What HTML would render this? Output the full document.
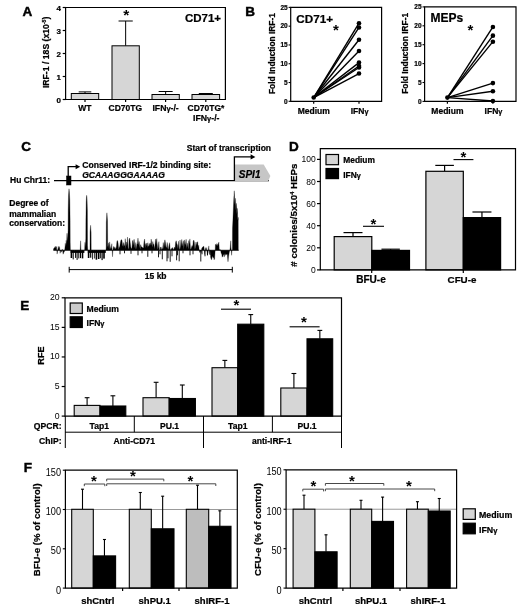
<!DOCTYPE html>
<html><head><meta charset="utf-8"><title>Figure</title>
<style>
html,body{margin:0;padding:0;background:#fff;}
svg{display:block;font-family:"Liberation Sans",sans-serif;}
</style></head>
<body>
<svg width="520" height="609" viewBox="0 0 520 609" style="filter:blur(0.35px)">
<rect x="0" y="0" width="520" height="609" fill="#fff"/>
<text x="22.50" y="15.70" font-size="13.5" text-anchor="start" font-weight="bold" font-style="normal" fill="#000" stroke="#000" stroke-width="0.45">A</text>
<line x1="85.00" y1="91.90" x2="85.00" y2="93.50" stroke="#000" stroke-width="1" />
<line x1="78.70" y1="91.90" x2="91.30" y2="91.90" stroke="#000" stroke-width="1" />
<rect x="71.30" y="93.50" width="27.40" height="6.00" fill="#d6d6d6" stroke="#000" stroke-width="1"/>
<line x1="125.65" y1="21.00" x2="125.65" y2="45.80" stroke="#000" stroke-width="1" />
<line x1="118.55" y1="21.00" x2="132.75" y2="21.00" stroke="#000" stroke-width="1" />
<rect x="112.00" y="45.80" width="27.30" height="53.70" fill="#d6d6d6" stroke="#000" stroke-width="1"/>
<line x1="165.65" y1="91.50" x2="165.65" y2="94.50" stroke="#000" stroke-width="1" />
<line x1="158.65" y1="91.50" x2="172.65" y2="91.50" stroke="#000" stroke-width="1" />
<rect x="152.00" y="94.50" width="27.30" height="5.00" fill="#d6d6d6" stroke="#000" stroke-width="1"/>
<line x1="205.80" y1="93.50" x2="205.80" y2="94.50" stroke="#000" stroke-width="1" />
<line x1="198.80" y1="93.50" x2="212.80" y2="93.50" stroke="#000" stroke-width="1" />
<rect x="192.00" y="94.50" width="27.60" height="5.00" fill="#d6d6d6" stroke="#000" stroke-width="1"/>
<path d="M65.6 99.5 V7.5 H225.4 V99.5 Z" fill="none" stroke="#000" stroke-width="1.2"/>
<line x1="62.70" y1="7.50" x2="65.60" y2="7.50" stroke="#000" stroke-width="1.2" />
<text x="61.00" y="10.90" font-size="8" text-anchor="end" font-weight="bold" font-style="normal" fill="#000"  stroke="#000" stroke-width="0.22">4</text>
<line x1="62.70" y1="30.50" x2="65.60" y2="30.50" stroke="#000" stroke-width="1.2" />
<text x="61.00" y="33.90" font-size="8" text-anchor="end" font-weight="bold" font-style="normal" fill="#000"  stroke="#000" stroke-width="0.22">3</text>
<line x1="62.70" y1="53.50" x2="65.60" y2="53.50" stroke="#000" stroke-width="1.2" />
<text x="61.00" y="56.90" font-size="8" text-anchor="end" font-weight="bold" font-style="normal" fill="#000"  stroke="#000" stroke-width="0.22">2</text>
<line x1="62.70" y1="76.50" x2="65.60" y2="76.50" stroke="#000" stroke-width="1.2" />
<text x="61.00" y="79.90" font-size="8" text-anchor="end" font-weight="bold" font-style="normal" fill="#000"  stroke="#000" stroke-width="0.22">1</text>
<line x1="62.70" y1="99.50" x2="65.60" y2="99.50" stroke="#000" stroke-width="1.2" />
<text x="61.00" y="102.90" font-size="8" text-anchor="end" font-weight="bold" font-style="normal" fill="#000"  stroke="#000" stroke-width="0.22">0</text>
<line x1="85.00" y1="99.50" x2="85.00" y2="101.90" stroke="#000" stroke-width="1.2" />
<line x1="125.60" y1="99.50" x2="125.60" y2="101.90" stroke="#000" stroke-width="1.2" />
<line x1="165.60" y1="99.50" x2="165.60" y2="101.90" stroke="#000" stroke-width="1.2" />
<line x1="205.80" y1="99.50" x2="205.80" y2="101.90" stroke="#000" stroke-width="1.2" />
<text x="84.80" y="111.30" font-size="8.5" text-anchor="middle" font-weight="bold" font-style="normal" fill="#000"  stroke="#000" stroke-width="0.22">WT</text>
<text x="125.30" y="111.30" font-size="8.5" text-anchor="middle" font-weight="bold" font-style="normal" fill="#000"  stroke="#000" stroke-width="0.22">CD70TG</text>
<text x="165.60" y="111.40" font-size="8.7" text-anchor="middle" font-weight="bold" font-style="normal" fill="#000"  stroke="#000" stroke-width="0.22">IFN<tspan font-size="86%">γ</tspan>-/-</text>
<text x="206.00" y="111.40" font-size="8.5" text-anchor="middle" font-weight="bold" font-style="normal" fill="#000"  stroke="#000" stroke-width="0.22">CD70TG*</text>
<text x="206.30" y="120.80" font-size="8.7" text-anchor="middle" font-weight="bold" font-style="normal" fill="#000"  stroke="#000" stroke-width="0.22">IFN<tspan font-size="86%">γ</tspan>-/-</text>
<text x="126.20" y="20.00" font-size="15.5" text-anchor="middle" font-weight="bold" font-style="normal" fill="#000" >*</text>
<text x="221.00" y="22.00" font-size="11.5" text-anchor="end" font-weight="bold" font-style="normal" fill="#000"  stroke="#000" stroke-width="0.22">CD71+</text>
<text x="49.00" y="52.40" font-size="8.67" text-anchor="middle" font-weight="bold" font-style="normal" fill="#000" transform="rotate(-90 49.00 52.40)"  stroke="#000" stroke-width="0.22">IRF-1 / 18S (x10<tspan font-size="5" dy="-3">-5</tspan><tspan dy="3">)</tspan></text>
<text x="245.20" y="15.70" font-size="13.5" text-anchor="start" font-weight="bold" font-style="normal" fill="#000" stroke="#000" stroke-width="0.45">B</text>
<line x1="313.70" y1="97.54" x2="359.00" y2="23.18" stroke="#000" stroke-width="1.4" />
<circle cx="359" cy="23.18" r="2.3" fill="#000"/>
<line x1="313.70" y1="97.54" x2="359.00" y2="27.49" stroke="#000" stroke-width="1.4" />
<circle cx="359" cy="27.49" r="2.3" fill="#000"/>
<line x1="313.70" y1="97.54" x2="359.00" y2="39.70" stroke="#000" stroke-width="1.4" />
<circle cx="359" cy="39.70" r="2.3" fill="#000"/>
<line x1="313.70" y1="97.54" x2="359.00" y2="50.97" stroke="#000" stroke-width="1.4" />
<circle cx="359" cy="50.97" r="2.3" fill="#000"/>
<line x1="313.70" y1="97.54" x2="359.00" y2="62.61" stroke="#000" stroke-width="1.4" />
<circle cx="359" cy="62.61" r="2.3" fill="#000"/>
<line x1="313.70" y1="97.54" x2="359.00" y2="65.99" stroke="#000" stroke-width="1.4" />
<circle cx="359" cy="65.99" r="2.3" fill="#000"/>
<line x1="313.70" y1="97.54" x2="359.00" y2="67.50" stroke="#000" stroke-width="1.4" />
<circle cx="359" cy="67.50" r="2.3" fill="#000"/>
<line x1="313.70" y1="97.54" x2="359.00" y2="73.51" stroke="#000" stroke-width="1.4" />
<circle cx="359" cy="73.51" r="2.3" fill="#000"/>
<circle cx="313.7" cy="97.54" r="2.3" fill="#000"/>
<path d="M290.7 101.3 V7.4 H381.6 V101.3 Z" fill="none" stroke="#000" stroke-width="1.2"/>
<line x1="288.60" y1="101.30" x2="290.70" y2="101.30" stroke="#000" stroke-width="1.1" />
<text x="287.70" y="103.60" font-size="6.5" text-anchor="end" font-weight="bold" font-style="normal" fill="#000"  stroke="#000" stroke-width="0.22">0</text>
<line x1="288.60" y1="82.52" x2="290.70" y2="82.52" stroke="#000" stroke-width="1.1" />
<text x="287.70" y="84.82" font-size="6.5" text-anchor="end" font-weight="bold" font-style="normal" fill="#000"  stroke="#000" stroke-width="0.22">5</text>
<line x1="288.60" y1="63.74" x2="290.70" y2="63.74" stroke="#000" stroke-width="1.1" />
<text x="287.70" y="66.04" font-size="6.5" text-anchor="end" font-weight="bold" font-style="normal" fill="#000"  stroke="#000" stroke-width="0.22">10</text>
<line x1="288.60" y1="44.96" x2="290.70" y2="44.96" stroke="#000" stroke-width="1.1" />
<text x="287.70" y="47.26" font-size="6.5" text-anchor="end" font-weight="bold" font-style="normal" fill="#000"  stroke="#000" stroke-width="0.22">15</text>
<line x1="288.60" y1="26.18" x2="290.70" y2="26.18" stroke="#000" stroke-width="1.1" />
<text x="287.70" y="28.48" font-size="6.5" text-anchor="end" font-weight="bold" font-style="normal" fill="#000"  stroke="#000" stroke-width="0.22">20</text>
<line x1="288.60" y1="7.40" x2="290.70" y2="7.40" stroke="#000" stroke-width="1.1" />
<text x="287.70" y="9.70" font-size="6.5" text-anchor="end" font-weight="bold" font-style="normal" fill="#000"  stroke="#000" stroke-width="0.22">25</text>
<line x1="313.70" y1="101.30" x2="313.70" y2="103.70" stroke="#000" stroke-width="1.2" />
<line x1="359.00" y1="101.30" x2="359.00" y2="103.70" stroke="#000" stroke-width="1.2" />
<text x="313.70" y="113.80" font-size="8.5" text-anchor="middle" font-weight="bold" font-style="normal" fill="#000"  stroke="#000" stroke-width="0.22">Medium</text>
<text x="359.60" y="114.10" font-size="8.5" text-anchor="middle" font-weight="bold" font-style="normal" fill="#000"  stroke="#000" stroke-width="0.22">IFN<tspan font-size="86%">γ</tspan></text>
<text x="296.30" y="22.50" font-size="11.7" text-anchor="start" font-weight="bold" font-style="normal" fill="#000"  stroke="#000" stroke-width="0.22">CD71+</text>
<text x="336.00" y="34.50" font-size="15" text-anchor="middle" font-weight="bold" font-style="normal" fill="#000" >*</text>
<text x="275.30" y="53.55" font-size="8.4" text-anchor="middle" font-weight="bold" font-style="normal" fill="#000" transform="rotate(-90 275.30 53.55)"  stroke="#000" stroke-width="0.22">Fold Induction IRF-1</text>
<line x1="447.40" y1="97.62" x2="492.90" y2="26.93" stroke="#000" stroke-width="1.4" />
<circle cx="492.9" cy="26.93" r="2.3" fill="#000"/>
<line x1="447.40" y1="97.62" x2="492.90" y2="35.63" stroke="#000" stroke-width="1.4" />
<circle cx="492.9" cy="35.63" r="2.3" fill="#000"/>
<line x1="447.40" y1="97.62" x2="492.90" y2="41.68" stroke="#000" stroke-width="1.4" />
<circle cx="492.9" cy="41.68" r="2.3" fill="#000"/>
<line x1="447.40" y1="97.62" x2="492.90" y2="83.10" stroke="#000" stroke-width="1.4" />
<circle cx="492.9" cy="83.10" r="2.3" fill="#000"/>
<line x1="447.40" y1="97.62" x2="492.90" y2="91.23" stroke="#000" stroke-width="1.4" />
<circle cx="492.9" cy="91.23" r="2.3" fill="#000"/>
<line x1="447.40" y1="97.62" x2="492.90" y2="101.02" stroke="#000" stroke-width="1.4" />
<circle cx="492.9" cy="101.02" r="2.3" fill="#000"/>
<circle cx="447.4" cy="97.62" r="2.3" fill="#000"/>
<path d="M424.6 101.4 V6.9 H516 V101.4 Z" fill="none" stroke="#000" stroke-width="1.2"/>
<line x1="422.50" y1="101.40" x2="424.60" y2="101.40" stroke="#000" stroke-width="1.1" />
<text x="421.60" y="103.70" font-size="6.5" text-anchor="end" font-weight="bold" font-style="normal" fill="#000"  stroke="#000" stroke-width="0.22">0</text>
<line x1="422.50" y1="82.50" x2="424.60" y2="82.50" stroke="#000" stroke-width="1.1" />
<text x="421.60" y="84.80" font-size="6.5" text-anchor="end" font-weight="bold" font-style="normal" fill="#000"  stroke="#000" stroke-width="0.22">5</text>
<line x1="422.50" y1="63.60" x2="424.60" y2="63.60" stroke="#000" stroke-width="1.1" />
<text x="421.60" y="65.90" font-size="6.5" text-anchor="end" font-weight="bold" font-style="normal" fill="#000"  stroke="#000" stroke-width="0.22">10</text>
<line x1="422.50" y1="44.70" x2="424.60" y2="44.70" stroke="#000" stroke-width="1.1" />
<text x="421.60" y="47.00" font-size="6.5" text-anchor="end" font-weight="bold" font-style="normal" fill="#000"  stroke="#000" stroke-width="0.22">15</text>
<line x1="422.50" y1="25.80" x2="424.60" y2="25.80" stroke="#000" stroke-width="1.1" />
<text x="421.60" y="28.10" font-size="6.5" text-anchor="end" font-weight="bold" font-style="normal" fill="#000"  stroke="#000" stroke-width="0.22">20</text>
<line x1="422.50" y1="6.90" x2="424.60" y2="6.90" stroke="#000" stroke-width="1.1" />
<text x="421.60" y="9.20" font-size="6.5" text-anchor="end" font-weight="bold" font-style="normal" fill="#000"  stroke="#000" stroke-width="0.22">25</text>
<line x1="447.40" y1="101.40" x2="447.40" y2="103.80" stroke="#000" stroke-width="1.2" />
<line x1="492.90" y1="101.40" x2="492.90" y2="103.80" stroke="#000" stroke-width="1.2" />
<text x="447.40" y="113.90" font-size="8.5" text-anchor="middle" font-weight="bold" font-style="normal" fill="#000"  stroke="#000" stroke-width="0.22">Medium</text>
<text x="493.50" y="114.20" font-size="8.5" text-anchor="middle" font-weight="bold" font-style="normal" fill="#000"  stroke="#000" stroke-width="0.22">IFN<tspan font-size="86%">γ</tspan></text>
<text x="430.50" y="21.70" font-size="12" text-anchor="start" font-weight="bold" font-style="normal" fill="#000"  stroke="#000" stroke-width="0.22">MEPs</text>
<text x="470.50" y="35.30" font-size="15" text-anchor="middle" font-weight="bold" font-style="normal" fill="#000" >*</text>
<text x="408.30" y="53.35" font-size="8.4" text-anchor="middle" font-weight="bold" font-style="normal" fill="#000" transform="rotate(-90 408.30 53.35)"  stroke="#000" stroke-width="0.22">Fold Induction IRF-1</text>
<text x="21.30" y="150.80" font-size="13.5" text-anchor="start" font-weight="bold" font-style="normal" fill="#000" stroke="#000" stroke-width="0.45">C</text>
<line x1="54.00" y1="180.70" x2="269.00" y2="180.70" stroke="#000" stroke-width="1.3" />
<rect x="66.50" y="176.00" width="4.50" height="9.00" fill="#000" stroke="#000" stroke-width="0.5"/>
<path d="M68.2 176 V166.7 H76.5" fill="none" stroke="#000" stroke-width="1.3"/><path d="M75.6 164.2 L80.2 166.7 L75.6 169.2 Z" fill="#000"/>
<text x="82.20" y="168.00" font-size="8.6" text-anchor="start" font-weight="bold" font-style="normal" fill="#000"  stroke="#000" stroke-width="0.22">Conserved IRF-1/2 binding site:</text>
<text x="82.20" y="178.00" font-size="8.55" text-anchor="start" font-weight="bold" font-style="italic" fill="#000"  stroke="#000" stroke-width="0.22">GCAAAGGGAAAAG</text>
<text x="10.00" y="183.30" font-size="8.5" text-anchor="start" font-weight="bold" font-style="normal" fill="#000"  stroke="#000" stroke-width="0.22">Hu Chr11:</text>
<text x="9.30" y="206.20" font-size="8.5" text-anchor="start" font-weight="bold" font-style="normal" fill="#000"  stroke="#000" stroke-width="0.22">Degree of</text>
<text x="9.30" y="216.50" font-size="8.5" text-anchor="start" font-weight="bold" font-style="normal" fill="#000"  stroke="#000" stroke-width="0.22">mammalian</text>
<text x="9.30" y="226.30" font-size="8.5" text-anchor="start" font-weight="bold" font-style="normal" fill="#000"  stroke="#000" stroke-width="0.22">conservation:</text>
<text x="186.70" y="151.00" font-size="8.7" text-anchor="start" font-weight="bold" font-style="normal" fill="#000" textLength="84.4" lengthAdjust="spacingAndGlyphs" stroke="#000" stroke-width="0.22">Start of transcription</text>
<path d="M234.4 181 V164.4 H263.7 L270.4 176 L268.2 181 Z" fill="#c6c6c6"/>
<path d="M234.4 181 V156.9 H251.5" fill="none" stroke="#000" stroke-width="1.3"/><path d="M250.6 154.2 L255.4 156.9 L250.6 159.6 Z" fill="#000"/>
<text x="249.60" y="177.50" font-size="11.4" text-anchor="middle" font-weight="bold" font-style="italic" fill="#000" textLength="21.8" lengthAdjust="spacingAndGlyphs" stroke="#000" stroke-width="0.22">SPI1</text>
<rect x="70.6" y="250.3" width="13.8" height="2.6" fill="#000"/>
<rect x="70.6" y="250.3" width="1.6" height="7.7" fill="#000"/>
<rect x="72.7" y="250.3" width="1.0" height="9.1" fill="#000"/>
<rect x="75.1" y="250.3" width="1.0" height="7.6" fill="#000"/>
<rect x="76.6" y="250.3" width="1.0" height="9.6" fill="#000"/>
<rect x="78.3" y="250.3" width="1.0" height="8.1" fill="#000"/>
<rect x="80.0" y="250.3" width="1.0" height="7.8" fill="#000"/>
<rect x="81.7" y="250.3" width="1.6" height="8.1" fill="#000"/>
<rect x="87.8" y="250.3" width="18.0" height="2.6" fill="#000"/>
<rect x="87.8" y="250.3" width="1.6" height="7.7" fill="#000"/>
<rect x="90.1" y="250.3" width="1.2" height="7.4" fill="#000"/>
<rect x="92.2" y="250.3" width="0.8" height="9.1" fill="#000"/>
<rect x="93.9" y="250.3" width="0.8" height="8.2" fill="#000"/>
<rect x="95.6" y="250.3" width="1.6" height="9.4" fill="#000"/>
<rect x="97.9" y="250.3" width="1.6" height="8.7" fill="#000"/>
<rect x="100.2" y="250.3" width="0.8" height="8.0" fill="#000"/>
<rect x="101.5" y="250.3" width="1.2" height="9.8" fill="#000"/>
<rect x="103.2" y="250.3" width="1.6" height="8.3" fill="#000"/>
<path d="M53.5 250.3 L53.5 249.0 L54.1 248.0 L54.7 247.5 L55.3 246.3 L55.9 248.0 L56.5 246.5 L57.1 254.1 L57.7 250.3 L58.3 246.3 L58.9 248.8 L59.5 246.6 L60.1 253.3 L60.7 250.3 L61.3 252.2 L61.9 249.7 L62.5 249.4 L63.1 254.2 L63.7 252.5 L64.3 251.9 L64.8 249.3 L65.3 243.3 L65.7 247.3 L66.2 240.3 L66.6 245.3 L67.0 233.3 L67.4 241.3 L67.8 236.3 L68.1 230.3 L68.2 210.3 L68.5 195.3 L69.0 188.8 L69.4 192.3 L69.8 200.3 L70.1 220.3 L70.2 242.3 L70.4 250.3 L80.2 250.3 L80.6 240.8 L81.0 250.3 L84.6 250.3 L85.0 242.3 L85.4 247.3 L85.8 238.3 L85.9 220.3 L86.2 202.3 L86.6 195.3 L87.0 197.3 L87.4 210.3 L87.5 245.3 L87.8 250.3 L90.0 250.3 L90.1 232.3 L90.6 225.3 L91.1 232.3 L91.2 250.3 L106.0 250.3 L106.2 246.3 L106.3 222.3 L106.9 212.8 L107.5 220.3 L107.7 246.3 L108.0 246.4 L108.5 242.8 L109.1 249.4 L109.6 241.9 L110.2 246.6 L110.7 248.8 L111.3 248.2 L111.8 243.7 L112.2 250.3 L112.5 256.8 L112.9 250.3 L113.2 248.3 L113.8 246.3 L114.3 249.1 L114.8 247.1 L115.4 248.5 L115.9 249.0 L116.5 245.8 L117.0 240.7 L117.6 240.8 L118.1 243.2 L118.7 249.8 L119.2 247.5 L119.8 246.2 L120.3 242.9 L120.9 240.2 L121.4 239.6 L122.0 240.6 L122.5 245.1 L123.1 246.8 L123.6 242.5 L124.2 245.2 L124.7 246.3 L125.3 238.7 L125.8 249.1 L126.4 242.0 L126.9 246.0 L127.5 237.1 L128.0 247.5 L128.6 249.6 L129.1 239.6 L129.7 238.0 L130.2 242.5 L130.8 246.9 L131.3 248.4 L131.9 248.3 L132.5 241.3 L133.0 240.2 L133.6 245.6 L134.1 239.2 L134.7 246.5 L135.2 249.6 L135.8 242.5 L136.3 249.6 L136.9 244.2 L137.4 244.0 L138.0 238.1 L138.5 245.6 L139.1 241.4 L139.6 245.4 L140.2 249.4 L140.7 244.6 L141.3 246.7 L141.8 246.9 L142.4 247.4 L142.9 247.8 L143.5 248.1 L144.0 241.8 L144.6 239.0 L145.1 247.9 L145.7 243.5 L146.2 246.2 L146.8 243.0 L147.3 247.7 L147.9 242.7 L148.4 246.6 L149.0 246.1 L149.5 244.2 L150.1 243.0 L150.6 245.4 L151.2 239.1 L151.7 244.0 L152.3 247.3 L152.8 241.5 L153.4 244.6 L153.9 244.2 L154.5 249.2 L155.0 245.2 L155.6 239.1 L156.1 244.7 L156.7 238.6 L157.2 244.0 L157.8 249.4 L158.3 247.1 L158.9 241.6 L159.4 249.9 L160.0 249.9 L160.5 247.3 L161.1 246.9 L161.6 249.8 L162.2 249.1 L162.7 247.7 L163.3 242.5 L163.8 249.3 L164.4 242.9 L164.9 239.8 L165.5 243.1 L166.0 247.3 L166.6 247.5 L167.2 242.4 L167.8 248.2 L168.4 249.5 L169.0 245.0 L169.6 242.7 L170.2 249.5 L170.8 249.7 L171.4 249.0 L172.0 247.7 L172.6 247.8 L173.2 249.7 L173.8 249.0 L174.4 247.0 L175.0 249.1 L175.6 242.2 L176.2 240.7 L176.8 243.6 L177.4 245.0 L178.0 248.9 L178.6 241.2 L179.2 248.3 L179.8 249.8 L180.0 240.0 L180.6 249.3 L181.1 245.5 L181.7 239.4 L182.2 246.5 L182.8 243.1 L183.3 240.7 L183.9 249.7 L184.4 239.9 L185.0 244.8 L185.5 244.1 L186.1 239.3 L186.6 249.1 L187.2 242.9 L187.7 245.7 L188.3 249.2 L188.8 240.5 L189.4 244.2 L189.9 238.9 L190.5 249.2 L191.0 249.1 L191.6 247.0 L192.1 245.4 L192.7 247.1 L193.2 241.3 L193.8 240.1 L194.3 242.1 L194.9 249.6 L195.4 247.3 L196.0 242.0 L196.5 245.7 L197.1 242.3 L197.6 241.7 L198.2 247.1 L198.7 245.2 L199.0 248.6 L199.7 252.5 L200.4 250.4 L201.1 252.8 L201.8 248.3 L202.5 247.3 L203.2 246.5 L203.9 246.4 L204.6 254.6 L205.3 247.6 L206.0 251.5 L206.7 247.6 L207.4 255.3 L208.1 252.4 L208.8 245.9 L209.5 254.0 L210.2 255.0 L210.4 250.3 L210.6 256.9 L211.1 259.3 L211.6 259.7 L212.1 256.4 L212.6 256.5 L213.1 258.1 L213.6 256.8 L214.1 259.8 L214.6 258.7 L215.2 250.3 L215.4 244.5 L215.9 244.6 L216.4 245.5 L216.9 243.6 L217.4 244.5 L217.9 246.1 L218.4 243.3 L218.9 242.2 L219.3 250.3 L220.0 249.3 L220.8 251.3 L221.2 253.4 L221.7 253.8 L222.2 257.2 L222.7 256.6 L223.2 255.0 L223.7 254.3 L224.2 257.1 L224.7 253.4 L225.2 255.4 L225.7 253.8 L226.2 254.1 L226.7 254.7 L227.2 254.0 L228.0 261.8 L228.6 256.3 L229.3 252.3 L229.8 250.3 L230.3 247.3 L230.7 240.8 L231.1 248.3 L231.6 255.3 L232.0 250.3 L232.4 250.3 L232.5 228.3 L232.9 220.3 L233.3 210.3 L233.8 198.3 L234.3 190.8 L234.7 200.3 L235.1 206.3 L235.5 198.3 L235.9 210.3 L236.4 203.3 L236.9 214.3 L237.3 208.3 L237.8 220.3 L238.2 217.3 L238.3 250.3 L238.6 250.3 Z" fill="#000" stroke="#000" stroke-width="0.3" stroke-linejoin="round"/>
<line x1="120.00" y1="250.30" x2="120.00" y2="254.30" stroke="#000" stroke-width="0.9" />
<line x1="124.50" y1="250.30" x2="124.50" y2="253.30" stroke="#000" stroke-width="0.9" />
<line x1="131.00" y1="250.30" x2="131.00" y2="253.80" stroke="#000" stroke-width="0.9" />
<line x1="138.00" y1="250.30" x2="138.00" y2="255.30" stroke="#000" stroke-width="0.9" />
<line x1="142.00" y1="250.30" x2="142.00" y2="253.30" stroke="#000" stroke-width="0.9" />
<line x1="147.80" y1="250.30" x2="147.80" y2="256.80" stroke="#000" stroke-width="0.9" />
<line x1="152.00" y1="250.30" x2="152.00" y2="253.30" stroke="#000" stroke-width="0.9" />
<line x1="158.50" y1="250.30" x2="158.50" y2="257.30" stroke="#000" stroke-width="0.9" />
<line x1="160.00" y1="250.30" x2="160.00" y2="254.30" stroke="#000" stroke-width="0.9" />
<line x1="162.30" y1="250.30" x2="162.30" y2="259.30" stroke="#000" stroke-width="0.9" />
<line x1="167.00" y1="250.30" x2="167.00" y2="261.30" stroke="#000" stroke-width="0.9" />
<line x1="168.00" y1="250.30" x2="168.00" y2="258.30" stroke="#000" stroke-width="0.9" />
<line x1="170.20" y1="250.30" x2="170.20" y2="261.80" stroke="#000" stroke-width="0.9" />
<line x1="172.00" y1="250.30" x2="172.00" y2="256.30" stroke="#000" stroke-width="0.9" />
<line x1="176.60" y1="250.30" x2="176.60" y2="260.30" stroke="#000" stroke-width="0.9" />
<line x1="177.50" y1="250.30" x2="177.50" y2="255.30" stroke="#000" stroke-width="0.9" />
<line x1="179.20" y1="250.30" x2="179.20" y2="261.30" stroke="#000" stroke-width="0.9" />
<line x1="183.00" y1="250.30" x2="183.00" y2="253.30" stroke="#000" stroke-width="0.9" />
<line x1="190.00" y1="250.30" x2="190.00" y2="255.30" stroke="#000" stroke-width="0.9" />
<line x1="193.00" y1="250.30" x2="193.00" y2="254.30" stroke="#000" stroke-width="0.9" />
<line x1="200.80" y1="250.30" x2="200.80" y2="261.50" stroke="#000" stroke-width="0.9" />
<line x1="202.00" y1="250.30" x2="202.00" y2="254.30" stroke="#000" stroke-width="0.9" />
<line x1="205.00" y1="250.30" x2="205.00" y2="256.30" stroke="#000" stroke-width="0.9" />
<line x1="207.50" y1="250.30" x2="207.50" y2="255.30" stroke="#000" stroke-width="0.9" />
<line x1="53.50" y1="250.30" x2="238.60" y2="250.30" stroke="#000" stroke-width="0.7" />
<line x1="69.00" y1="269.60" x2="232.40" y2="269.60" stroke="#000" stroke-width="1" />
<line x1="69.20" y1="266.80" x2="69.20" y2="272.60" stroke="#000" stroke-width="1" />
<line x1="232.30" y1="266.80" x2="232.30" y2="272.60" stroke="#000" stroke-width="1" />
<text x="155.70" y="279.40" font-size="8.5" text-anchor="middle" font-weight="bold" font-style="normal" fill="#000"  stroke="#000" stroke-width="0.22">15 kb</text>
<text x="289.00" y="150.50" font-size="13.5" text-anchor="start" font-weight="bold" font-style="normal" fill="#000" stroke="#000" stroke-width="0.45">D</text>
<line x1="353.00" y1="232.60" x2="353.00" y2="236.60" stroke="#000" stroke-width="1.2" />
<line x1="343.50" y1="232.60" x2="362.50" y2="232.60" stroke="#000" stroke-width="1.2" />
<rect x="334.20" y="236.60" width="37.60" height="33.30" fill="#d6d6d6" stroke="#000" stroke-width="1.2"/>
<line x1="390.65" y1="249.20" x2="390.65" y2="250.40" stroke="#000" stroke-width="1.2" />
<line x1="381.45" y1="249.20" x2="399.85" y2="249.20" stroke="#000" stroke-width="1.2" />
<rect x="371.80" y="250.40" width="37.70" height="19.50" fill="#000" stroke="#000" stroke-width="1.2"/>
<line x1="444.60" y1="165.40" x2="444.60" y2="171.30" stroke="#000" stroke-width="1.2" />
<line x1="435.30" y1="165.40" x2="453.90" y2="165.40" stroke="#000" stroke-width="1.2" />
<rect x="425.90" y="171.30" width="37.40" height="98.60" fill="#d6d6d6" stroke="#000" stroke-width="1.2"/>
<line x1="481.95" y1="212.00" x2="481.95" y2="217.60" stroke="#000" stroke-width="1.2" />
<line x1="472.45" y1="212.00" x2="491.45" y2="212.00" stroke="#000" stroke-width="1.2" />
<rect x="463.30" y="217.60" width="37.30" height="52.30" fill="#000" stroke="#000" stroke-width="1.2"/>
<path d="M320.3 269.9 V148.6 H515.5 V269.9 Z" fill="none" stroke="#000" stroke-width="1.2"/>
<line x1="317.00" y1="159.40" x2="320.30" y2="159.40" stroke="#000" stroke-width="1.2" />
<text x="315.70" y="162.40" font-size="8.5" text-anchor="end" font-weight="normal" font-style="normal" fill="#000" >100</text>
<line x1="317.00" y1="181.50" x2="320.30" y2="181.50" stroke="#000" stroke-width="1.2" />
<text x="315.70" y="184.50" font-size="8.5" text-anchor="end" font-weight="normal" font-style="normal" fill="#000" >80</text>
<line x1="317.00" y1="203.60" x2="320.30" y2="203.60" stroke="#000" stroke-width="1.2" />
<text x="315.70" y="206.60" font-size="8.5" text-anchor="end" font-weight="normal" font-style="normal" fill="#000" >60</text>
<line x1="317.00" y1="225.70" x2="320.30" y2="225.70" stroke="#000" stroke-width="1.2" />
<text x="315.70" y="228.70" font-size="8.5" text-anchor="end" font-weight="normal" font-style="normal" fill="#000" >40</text>
<line x1="317.00" y1="247.80" x2="320.30" y2="247.80" stroke="#000" stroke-width="1.2" />
<text x="315.70" y="250.80" font-size="8.5" text-anchor="end" font-weight="normal" font-style="normal" fill="#000" >20</text>
<line x1="317.00" y1="269.90" x2="320.30" y2="269.90" stroke="#000" stroke-width="1.2" />
<text x="315.70" y="272.90" font-size="8.5" text-anchor="end" font-weight="normal" font-style="normal" fill="#000" >0</text>
<line x1="371.70" y1="269.90" x2="371.70" y2="272.90" stroke="#000" stroke-width="1.2" />
<line x1="463.30" y1="269.90" x2="463.30" y2="272.90" stroke="#000" stroke-width="1.2" />
<text x="371.00" y="282.70" font-size="10.1" text-anchor="middle" font-weight="bold" font-style="normal" fill="#000"  stroke="#000" stroke-width="0.22">BFU-e</text>
<text x="462.00" y="282.70" font-size="9.8" text-anchor="middle" font-weight="bold" font-style="normal" fill="#000"  stroke="#000" stroke-width="0.22">CFU-e</text>
<rect x="326.00" y="154.50" width="12.50" height="10.20" fill="#d6d6d6" stroke="#000" stroke-width="1.2"/>
<rect x="326.00" y="168.50" width="12.50" height="10.10" fill="#000" stroke="#000" stroke-width="1.2"/>
<text x="343.30" y="163.40" font-size="8.4" text-anchor="start" font-weight="bold" font-style="normal" fill="#000"  stroke="#000" stroke-width="0.22">Medium</text>
<text x="343.30" y="177.80" font-size="8.4" text-anchor="start" font-weight="bold" font-style="normal" fill="#000"  stroke="#000" stroke-width="0.22">IFN<tspan font-size="86%">γ</tspan></text>
<line x1="363.00" y1="226.30" x2="384.00" y2="226.30" stroke="#000" stroke-width="1.1" />
<text x="373.40" y="229.20" font-size="15" text-anchor="middle" font-weight="bold" font-style="normal" fill="#000" >*</text>
<line x1="453.50" y1="159.60" x2="473.40" y2="159.60" stroke="#000" stroke-width="1.1" />
<text x="463.30" y="162.00" font-size="15" text-anchor="middle" font-weight="bold" font-style="normal" fill="#000" >*</text>
<text x="297.00" y="215.20" font-size="9.72" text-anchor="middle" font-weight="bold" font-style="normal" fill="#000" transform="rotate(-90 297.00 215.20)"  stroke="#000" stroke-width="0.22"># colonies/5x10<tspan font-size="5.5" dy="-3">4</tspan><tspan dy="3"> HEPs</tspan></text>
<text x="20.20" y="309.70" font-size="13.5" text-anchor="start" font-weight="bold" font-style="normal" fill="#000" stroke="#000" stroke-width="0.45">E</text>
<line x1="87.10" y1="397.70" x2="87.10" y2="405.40" stroke="#000" stroke-width="1.1" />
<line x1="84.70" y1="397.70" x2="89.50" y2="397.70" stroke="#000" stroke-width="1.1" />
<rect x="74.20" y="405.40" width="25.80" height="10.70" fill="#d6d6d6" stroke="#000" stroke-width="1.1"/>
<line x1="112.90" y1="395.80" x2="112.90" y2="406.00" stroke="#000" stroke-width="1.1" />
<line x1="110.50" y1="395.80" x2="115.30" y2="395.80" stroke="#000" stroke-width="1.1" />
<rect x="100.00" y="406.00" width="25.80" height="10.10" fill="#000" stroke="#000" stroke-width="1.1"/>
<line x1="156.10" y1="382.30" x2="156.10" y2="397.70" stroke="#000" stroke-width="1.1" />
<line x1="153.70" y1="382.30" x2="158.50" y2="382.30" stroke="#000" stroke-width="1.1" />
<rect x="143.00" y="397.70" width="26.20" height="18.40" fill="#d6d6d6" stroke="#000" stroke-width="1.1"/>
<line x1="182.30" y1="385.00" x2="182.30" y2="398.50" stroke="#000" stroke-width="1.1" />
<line x1="179.90" y1="385.00" x2="184.70" y2="385.00" stroke="#000" stroke-width="1.1" />
<rect x="169.20" y="398.50" width="26.20" height="17.60" fill="#000" stroke="#000" stroke-width="1.1"/>
<line x1="224.85" y1="360.40" x2="224.85" y2="367.70" stroke="#000" stroke-width="1.1" />
<line x1="222.45" y1="360.40" x2="227.25" y2="360.40" stroke="#000" stroke-width="1.1" />
<rect x="212.00" y="367.70" width="25.70" height="48.40" fill="#d6d6d6" stroke="#000" stroke-width="1.1"/>
<line x1="250.75" y1="314.60" x2="250.75" y2="324.20" stroke="#000" stroke-width="1.1" />
<line x1="248.35" y1="314.60" x2="253.15" y2="314.60" stroke="#000" stroke-width="1.1" />
<rect x="237.70" y="324.20" width="26.10" height="91.90" fill="#000" stroke="#000" stroke-width="1.1"/>
<line x1="293.90" y1="373.50" x2="293.90" y2="388.00" stroke="#000" stroke-width="1.1" />
<line x1="291.50" y1="373.50" x2="296.30" y2="373.50" stroke="#000" stroke-width="1.1" />
<rect x="280.80" y="388.00" width="26.20" height="28.10" fill="#d6d6d6" stroke="#000" stroke-width="1.1"/>
<line x1="319.85" y1="330.40" x2="319.85" y2="338.80" stroke="#000" stroke-width="1.1" />
<line x1="317.45" y1="330.40" x2="322.25" y2="330.40" stroke="#000" stroke-width="1.1" />
<rect x="307.00" y="338.80" width="25.70" height="77.30" fill="#000" stroke="#000" stroke-width="1.1"/>
<path d="M65.0 416.1 V297.8 H341.5 V416.1 Z" fill="none" stroke="#000" stroke-width="1.2"/>
<line x1="61.70" y1="297.80" x2="65.00" y2="297.80" stroke="#000" stroke-width="1.2" />
<text x="59.60" y="300.30" font-size="8.7" text-anchor="end" font-weight="normal" font-style="normal" fill="#000" >20</text>
<line x1="61.70" y1="327.38" x2="65.00" y2="327.38" stroke="#000" stroke-width="1.2" />
<text x="59.60" y="329.88" font-size="8.7" text-anchor="end" font-weight="normal" font-style="normal" fill="#000" >15</text>
<line x1="61.70" y1="356.95" x2="65.00" y2="356.95" stroke="#000" stroke-width="1.2" />
<text x="59.60" y="359.45" font-size="8.7" text-anchor="end" font-weight="normal" font-style="normal" fill="#000" >10</text>
<line x1="61.70" y1="386.52" x2="65.00" y2="386.52" stroke="#000" stroke-width="1.2" />
<text x="59.60" y="389.02" font-size="8.7" text-anchor="end" font-weight="normal" font-style="normal" fill="#000" >5</text>
<line x1="61.70" y1="416.10" x2="65.00" y2="416.10" stroke="#000" stroke-width="1.2" />
<text x="59.60" y="418.60" font-size="8.7" text-anchor="end" font-weight="normal" font-style="normal" fill="#000" >0</text>
<rect x="70.20" y="303.00" width="12.10" height="10.50" fill="#cbcbcb" stroke="#000" stroke-width="1.2"/>
<rect x="70.20" y="316.80" width="12.10" height="10.70" fill="#000" stroke="#000" stroke-width="1.2"/>
<text x="86.50" y="311.50" font-size="8.6" text-anchor="start" font-weight="bold" font-style="normal" fill="#000"  stroke="#000" stroke-width="0.22">Medium</text>
<text x="86.50" y="325.80" font-size="8.6" text-anchor="start" font-weight="bold" font-style="normal" fill="#000"  stroke="#000" stroke-width="0.22">IFN<tspan font-size="86%">γ</tspan></text>
<text x="44.30" y="355.50" font-size="9.8" text-anchor="middle" font-weight="bold" font-style="normal" fill="#000" transform="rotate(-90 44.30 355.50)" textLength="18.3" lengthAdjust="spacingAndGlyphs" stroke="#000" stroke-width="0.22">RFE</text>
<line x1="221.00" y1="309.20" x2="251.00" y2="309.20" stroke="#000" stroke-width="1.1" />
<text x="236.50" y="309.80" font-size="15" text-anchor="middle" font-weight="bold" font-style="normal" fill="#000" >*</text>
<line x1="289.60" y1="326.80" x2="319.60" y2="326.80" stroke="#000" stroke-width="1.1" />
<text x="304.00" y="327.30" font-size="15" text-anchor="middle" font-weight="bold" font-style="normal" fill="#000" >*</text>
<line x1="65.00" y1="432.20" x2="341.60" y2="432.20" stroke="#000" stroke-width="1" />
<line x1="65.30" y1="416.00" x2="65.30" y2="448.00" stroke="#000" stroke-width="1" />
<line x1="203.50" y1="416.00" x2="203.50" y2="448.00" stroke="#000" stroke-width="1" />
<line x1="341.50" y1="416.00" x2="341.50" y2="448.00" stroke="#000" stroke-width="1" />
<line x1="134.30" y1="416.00" x2="134.30" y2="432.20" stroke="#000" stroke-width="1" />
<line x1="272.40" y1="416.00" x2="272.40" y2="432.20" stroke="#000" stroke-width="1" />
<text x="61.50" y="428.80" font-size="8.6" text-anchor="end" font-weight="bold" font-style="normal" fill="#000"  stroke="#000" stroke-width="0.22">QPCR:</text>
<text x="61.50" y="444.20" font-size="8.6" text-anchor="end" font-weight="bold" font-style="normal" fill="#000"  stroke="#000" stroke-width="0.22">ChIP:</text>
<text x="99.30" y="428.80" font-size="8.6" text-anchor="middle" font-weight="bold" font-style="normal" fill="#000"  stroke="#000" stroke-width="0.22">Tap1</text>
<text x="169.60" y="428.80" font-size="8.6" text-anchor="middle" font-weight="bold" font-style="normal" fill="#000"  stroke="#000" stroke-width="0.22">PU.1</text>
<text x="237.80" y="428.80" font-size="8.6" text-anchor="middle" font-weight="bold" font-style="normal" fill="#000"  stroke="#000" stroke-width="0.22">Tap1</text>
<text x="307.00" y="428.80" font-size="8.6" text-anchor="middle" font-weight="bold" font-style="normal" fill="#000"  stroke="#000" stroke-width="0.22">PU.1</text>
<text x="134.30" y="444.20" font-size="8.6" text-anchor="middle" font-weight="bold" font-style="normal" fill="#000"  stroke="#000" stroke-width="0.22">Anti-CD71</text>
<text x="271.70" y="444.20" font-size="8.6" text-anchor="middle" font-weight="bold" font-style="normal" fill="#000"  stroke="#000" stroke-width="0.22">anti-IRF-1</text>
<text x="23.80" y="472.10" font-size="13.6" text-anchor="start" font-weight="bold" font-style="normal" fill="#000" stroke="#000" stroke-width="0.45">F</text>
<line x1="65.40" y1="509.50" x2="237.30" y2="509.50" stroke="#999" stroke-width="1" />
<line x1="82.50" y1="489.20" x2="82.50" y2="509.30" stroke="#000" stroke-width="1.1" />
<line x1="81.00" y1="489.20" x2="84.00" y2="489.20" stroke="#000" stroke-width="1.1" />
<rect x="71.70" y="509.30" width="21.60" height="78.80" fill="#d6d6d6" stroke="#000" stroke-width="1.1"/>
<line x1="104.45" y1="539.50" x2="104.45" y2="555.90" stroke="#000" stroke-width="1.1" />
<line x1="102.95" y1="539.50" x2="105.95" y2="539.50" stroke="#000" stroke-width="1.1" />
<rect x="93.30" y="555.90" width="22.30" height="32.20" fill="#000" stroke="#000" stroke-width="1.1"/>
<line x1="140.30" y1="492.50" x2="140.30" y2="509.30" stroke="#000" stroke-width="1.1" />
<line x1="138.80" y1="492.50" x2="141.80" y2="492.50" stroke="#000" stroke-width="1.1" />
<rect x="129.30" y="509.30" width="22.00" height="78.80" fill="#d6d6d6" stroke="#000" stroke-width="1.1"/>
<line x1="162.65" y1="496.20" x2="162.65" y2="528.80" stroke="#000" stroke-width="1.1" />
<line x1="161.15" y1="496.20" x2="164.15" y2="496.20" stroke="#000" stroke-width="1.1" />
<rect x="151.30" y="528.80" width="22.70" height="59.30" fill="#000" stroke="#000" stroke-width="1.1"/>
<line x1="197.50" y1="485.20" x2="197.50" y2="509.30" stroke="#000" stroke-width="1.1" />
<line x1="196.00" y1="485.20" x2="199.00" y2="485.20" stroke="#000" stroke-width="1.1" />
<rect x="186.30" y="509.30" width="22.40" height="78.80" fill="#bdbdbd" stroke="#000" stroke-width="1.1"/>
<line x1="219.85" y1="510.80" x2="219.85" y2="526.30" stroke="#000" stroke-width="1.1" />
<line x1="218.35" y1="510.80" x2="221.35" y2="510.80" stroke="#000" stroke-width="1.1" />
<rect x="208.70" y="526.30" width="22.30" height="61.80" fill="#000" stroke="#000" stroke-width="1.1"/>
<path d="M65.4 588.1 V470.2 H237.3 V588.1 Z" fill="none" stroke="#000" stroke-width="1.2"/>
<line x1="62.80" y1="588.10" x2="65.40" y2="588.10" stroke="#000" stroke-width="1.1" />
<text x="61.00" y="593.50" font-size="10.6" text-anchor="end" font-weight="normal" font-style="normal" fill="#000" textLength="5.1" lengthAdjust="spacingAndGlyphs">0</text>
<line x1="62.80" y1="548.80" x2="65.40" y2="548.80" stroke="#000" stroke-width="1.1" />
<text x="61.00" y="554.20" font-size="10.6" text-anchor="end" font-weight="normal" font-style="normal" fill="#000" textLength="10.2" lengthAdjust="spacingAndGlyphs">50</text>
<line x1="62.80" y1="509.50" x2="65.40" y2="509.50" stroke="#000" stroke-width="1.1" />
<text x="61.00" y="514.90" font-size="10.6" text-anchor="end" font-weight="normal" font-style="normal" fill="#000" textLength="15.3" lengthAdjust="spacingAndGlyphs">100</text>
<line x1="62.80" y1="470.20" x2="65.40" y2="470.20" stroke="#000" stroke-width="1.1" />
<text x="61.00" y="475.60" font-size="10.6" text-anchor="end" font-weight="normal" font-style="normal" fill="#000" textLength="15.3" lengthAdjust="spacingAndGlyphs">150</text>
<line x1="122.60" y1="588.10" x2="122.60" y2="591.10" stroke="#000" stroke-width="1.2" />
<line x1="179.00" y1="588.10" x2="179.00" y2="591.10" stroke="#000" stroke-width="1.2" />
<text x="97.80" y="603.90" font-size="9.5" text-anchor="middle" font-weight="bold" font-style="normal" fill="#000"  stroke="#000" stroke-width="0.22">shCntrl</text>
<text x="154.70" y="603.90" font-size="9.5" text-anchor="middle" font-weight="bold" font-style="normal" fill="#000"  stroke="#000" stroke-width="0.22">shPU.1</text>
<text x="212.00" y="603.90" font-size="9.5" text-anchor="middle" font-weight="bold" font-style="normal" fill="#000"  stroke="#000" stroke-width="0.22">shIRF-1</text>
<path d="M84.3 486.2 V484 H104.8 V486.2" fill="none" stroke="#333" stroke-width="0.9"/>
<text x="94.00" y="486.20" font-size="15" text-anchor="middle" font-weight="bold" font-style="normal" fill="#000" >*</text>
<path d="M106.7 481.3 V479.1 H163.8 V481.3" fill="none" stroke="#333" stroke-width="0.9"/>
<text x="133.00" y="481.30" font-size="15" text-anchor="middle" font-weight="bold" font-style="normal" fill="#000" >*</text>
<path d="M106.7 486.0 V483.8 H215.8 V486.0" fill="none" stroke="#333" stroke-width="0.9"/>
<text x="190.50" y="486.00" font-size="15" text-anchor="middle" font-weight="bold" font-style="normal" fill="#000" >*</text>
<text x="40.00" y="529.75" font-size="9.62" text-anchor="middle" font-weight="bold" font-style="normal" fill="#000" transform="rotate(-90 40.00 529.75)"  stroke="#000" stroke-width="0.22">BFU-e (% of control)</text>
<line x1="286.10" y1="509.23" x2="456.60" y2="509.23" stroke="#999" stroke-width="1" />
<line x1="304.00" y1="495.20" x2="304.00" y2="509.20" stroke="#000" stroke-width="1.1" />
<line x1="302.50" y1="495.20" x2="305.50" y2="495.20" stroke="#000" stroke-width="1.1" />
<rect x="293.10" y="509.20" width="21.80" height="78.90" fill="#d6d6d6" stroke="#000" stroke-width="1.1"/>
<line x1="326.00" y1="534.80" x2="326.00" y2="551.80" stroke="#000" stroke-width="1.1" />
<line x1="324.50" y1="534.80" x2="327.50" y2="534.80" stroke="#000" stroke-width="1.1" />
<rect x="314.90" y="551.80" width="22.20" height="36.30" fill="#000" stroke="#000" stroke-width="1.1"/>
<line x1="361.00" y1="500.30" x2="361.00" y2="509.20" stroke="#000" stroke-width="1.1" />
<line x1="359.50" y1="500.30" x2="362.50" y2="500.30" stroke="#000" stroke-width="1.1" />
<rect x="350.30" y="509.20" width="21.40" height="78.90" fill="#d6d6d6" stroke="#000" stroke-width="1.1"/>
<line x1="382.60" y1="497.10" x2="382.60" y2="521.40" stroke="#000" stroke-width="1.1" />
<line x1="381.10" y1="497.10" x2="384.10" y2="497.10" stroke="#000" stroke-width="1.1" />
<rect x="371.70" y="521.40" width="21.80" height="66.70" fill="#000" stroke="#000" stroke-width="1.1"/>
<line x1="417.45" y1="501.70" x2="417.45" y2="509.20" stroke="#000" stroke-width="1.1" />
<line x1="415.95" y1="501.70" x2="418.95" y2="501.70" stroke="#000" stroke-width="1.1" />
<rect x="406.60" y="509.20" width="21.70" height="78.90" fill="#d6d6d6" stroke="#000" stroke-width="1.1"/>
<line x1="439.25" y1="498.50" x2="439.25" y2="511.00" stroke="#000" stroke-width="1.1" />
<line x1="437.75" y1="498.50" x2="440.75" y2="498.50" stroke="#000" stroke-width="1.1" />
<rect x="428.30" y="511.00" width="21.90" height="77.10" fill="#000" stroke="#000" stroke-width="1.1"/>
<path d="M286.1 588.1 V469.8 H456.6 V588.1 Z" fill="none" stroke="#000" stroke-width="1.2"/>
<line x1="283.50" y1="588.10" x2="286.10" y2="588.10" stroke="#000" stroke-width="1.1" />
<text x="281.70" y="593.50" font-size="10.6" text-anchor="end" font-weight="normal" font-style="normal" fill="#000" textLength="5.1" lengthAdjust="spacingAndGlyphs">0</text>
<line x1="283.50" y1="548.67" x2="286.10" y2="548.67" stroke="#000" stroke-width="1.1" />
<text x="281.70" y="554.07" font-size="10.6" text-anchor="end" font-weight="normal" font-style="normal" fill="#000" textLength="10.2" lengthAdjust="spacingAndGlyphs">50</text>
<line x1="283.50" y1="509.23" x2="286.10" y2="509.23" stroke="#000" stroke-width="1.1" />
<text x="281.70" y="514.63" font-size="10.6" text-anchor="end" font-weight="normal" font-style="normal" fill="#000" textLength="15.3" lengthAdjust="spacingAndGlyphs">100</text>
<line x1="283.50" y1="469.80" x2="286.10" y2="469.80" stroke="#000" stroke-width="1.1" />
<text x="281.70" y="475.20" font-size="10.6" text-anchor="end" font-weight="normal" font-style="normal" fill="#000" textLength="15.3" lengthAdjust="spacingAndGlyphs">150</text>
<line x1="342.90" y1="588.10" x2="342.90" y2="591.10" stroke="#000" stroke-width="1.2" />
<line x1="400.00" y1="588.10" x2="400.00" y2="591.10" stroke="#000" stroke-width="1.2" />
<text x="315.40" y="603.90" font-size="9.5" text-anchor="middle" font-weight="bold" font-style="normal" fill="#000"  stroke="#000" stroke-width="0.22">shCntrl</text>
<text x="371.00" y="603.90" font-size="9.5" text-anchor="middle" font-weight="bold" font-style="normal" fill="#000"  stroke="#000" stroke-width="0.22">shPU.1</text>
<text x="428.00" y="603.90" font-size="9.5" text-anchor="middle" font-weight="bold" font-style="normal" fill="#000"  stroke="#000" stroke-width="0.22">shIRF-1</text>
<path d="M302.8 491.4 V489.2 H323.6 V491.4" fill="none" stroke="#333" stroke-width="0.9"/>
<text x="313.30" y="491.40" font-size="15" text-anchor="middle" font-weight="bold" font-style="normal" fill="#000" >*</text>
<path d="M325.4 485.7 V483.5 H383.8 V485.7" fill="none" stroke="#333" stroke-width="0.9"/>
<text x="351.80" y="485.70" font-size="15" text-anchor="middle" font-weight="bold" font-style="normal" fill="#000" >*</text>
<path d="M325.4 491.2 V489 H434.7 V491.2" fill="none" stroke="#333" stroke-width="0.9"/>
<text x="409.00" y="491.20" font-size="15" text-anchor="middle" font-weight="bold" font-style="normal" fill="#000" >*</text>
<text x="261.40" y="529.55" font-size="9.62" text-anchor="middle" font-weight="bold" font-style="normal" fill="#000" transform="rotate(-90 261.40 529.55)"  stroke="#000" stroke-width="0.22">CFU-e (% of control)</text>
<rect x="463.20" y="508.80" width="12.10" height="10.60" fill="#d6d6d6" stroke="#000" stroke-width="1.2"/>
<rect x="463.20" y="523.20" width="12.10" height="10.60" fill="#000" stroke="#000" stroke-width="1.2"/>
<text x="479.00" y="518.30" font-size="8.8" text-anchor="start" font-weight="bold" font-style="normal" fill="#000"  stroke="#000" stroke-width="0.22">Medium</text>
<text x="479.00" y="532.50" font-size="8.8" text-anchor="start" font-weight="bold" font-style="normal" fill="#000"  stroke="#000" stroke-width="0.22">IFN<tspan font-size="86%">γ</tspan></text>
</svg>
</body></html>
